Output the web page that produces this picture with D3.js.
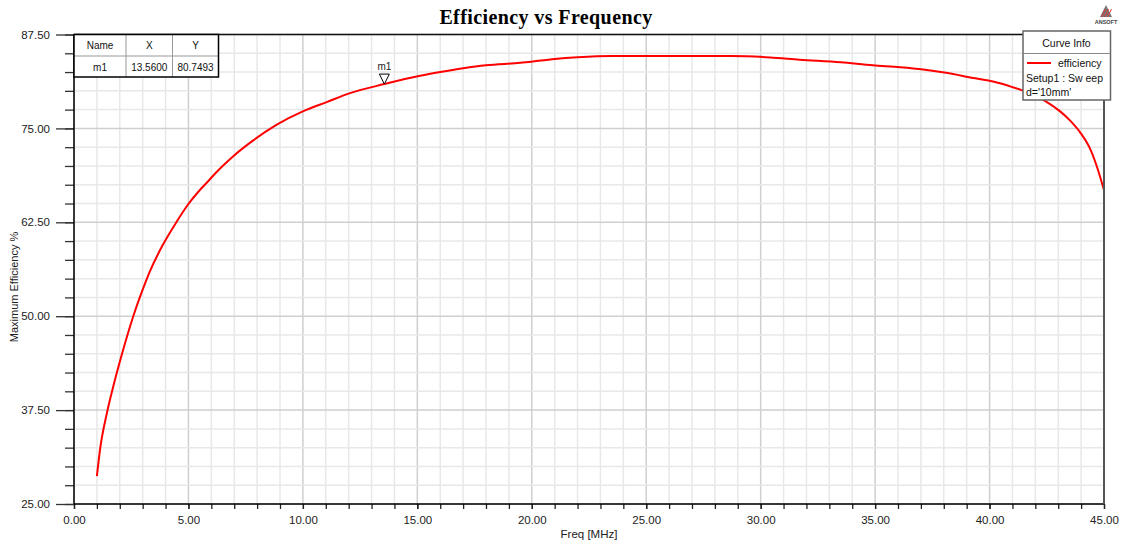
<!DOCTYPE html>
<html>
<head>
<meta charset="utf-8">
<script src="https://cdn.jsdelivr.net/npm/d3@7"></script>
<style>
  body { margin: 0; background: #fff; }
  svg { display: block; font-family: 'Liberation Sans', Arial, sans-serif; }
</style>
</head>
<body>
<svg id="chart" width="1129" height="543"></svg>
<script>
// values
const freq = [1.0, 1.14, 1.43, 1.72, 2.08, 2.59, 2.96, 3.32, 3.83, 4.49, 4.99, 5.5, 5.87, 6.23, 6.96, 7.83, 8.86, 10.02, 11.04, 12.06, 13.56, 15.12, 16.0, 17.0, 18.0, 19.5, 20.3, 21.0, 22.0, 23.5, 28.7, 30.4, 31.7, 33.5, 34.9, 36.1, 37.1, 38.1, 39.3, 40.2, 41.0, 41.4, 42.4, 43.07, 43.5, 43.95, 44.39, 44.68, 45.0]
const efficiency = [28.7, 32.3, 37.0, 40.7, 44.8, 50.0, 53.2, 56.0, 59.2, 62.6, 64.9, 66.8, 68.0, 69.2, 71.3, 73.4, 75.5, 77.3, 78.5, 79.7, 80.9, 82.0, 82.5, 83.0, 83.4, 83.74, 84.0, 84.23, 84.46, 84.63, 84.63, 84.45, 84.15, 83.8, 83.4, 83.15, 82.85, 82.4, 81.7, 81.2, 80.5, 80.1, 78.7, 77.3, 76.1, 74.5, 72.3, 70.0, 66.8]
const xTicks = [0, 5, 10, 15, 20, 25, 30, 35, 40, 45]
const yTicks = [25, 37.5, 50, 62.5, 75, 87.5]
const markerRow = ['m1', '13.5600', '80.7493']
const markerHeader = ['Name', 'X', 'Y']
const legendLines = ['efficiency', 'Setup1 : Sw eep', "d='10mm'"]

const margin = { left: 74, right: 25, top: 34.5, bottom: 39 }
const width = 1129
const height = 543

const svg = d3.select('#chart')

const x = d3.scaleLinear().domain([0, 45]).range([margin.left, width - margin.right])
const y = d3.scaleLinear().domain([25, 87.5]).range([height - margin.bottom, margin.top])

const xMinor = d3.range(0, 45.01, 1)
const yMinor = d3.range(25, 87.51, 2.5)

function buildGrid() {
  const grid = svg.append('g')
  grid.selectAll('.vminor').data(xMinor).enter().append('line')
    .attr('x1', (d) => x(d)).attr('x2', (d) => x(d))
    .attr('y1', y(25)).attr('y2', y(87.5))
    .attr('stroke', (d) => (d % 5 === 0 ? '#cfcfcf' : '#e8e8e8'))
    .attr('stroke-width', 1.5)
  grid.selectAll('.hminor').data(yMinor).enter().append('line')
    .attr('x1', x(0)).attr('x2', x(45))
    .attr('y1', (d) => y(d)).attr('y2', (d) => y(d))
    .attr('stroke', (d) => (d % 12.5 === 0 ? '#cfcfcf' : '#e8e8e8'))
    .attr('stroke-width', 1.5)
}

function buildAxes() {
  // minor ticks
  svg.append('g')
    .attr('transform', 'translate(' + x(0) + ',0)')
    .call(d3.axisLeft(y).tickValues(yMinor).tickSize(9).tickFormat(''))
    .call((g) => g.select('.domain').remove())
    .selectAll('line').attr('stroke', '#333').attr('stroke-width', 1.3)

  const yAxis = svg.append('g')
    .attr('transform', 'translate(' + x(0) + ',0)')
    .call(d3.axisLeft(y).tickValues(yTicks).tickSize(18).tickPadding(6).tickFormat(d3.format('.2f')))
  yAxis.select('.domain').remove()
  yAxis.selectAll('line').attr('stroke', '#333').attr('stroke-width', 1.3)
  yAxis.selectAll('text').attr('font-size', 11.5).attr('fill', '#222')
    .attr('font-family', "'Liberation Sans', Arial, sans-serif")

  const xAxis = svg.append('g')
    .attr('transform', 'translate(0,' + y(25) + ')')
    .call(d3.axisBottom(x).tickValues(xMinor).tickSize(5).tickFormat(''))
  xAxis.select('.domain').remove()
  xAxis.selectAll('line').attr('stroke', '#222').attr('stroke-width', 1.3)

  const xLabels = svg.append('g')
    .attr('transform', 'translate(0,' + y(25) + ')')
    .call(d3.axisBottom(x).tickValues(xTicks).tickSize(5).tickPadding(7).tickFormat(d3.format('.2f')))
  xLabels.select('.domain').remove()
  xLabels.selectAll('line').attr('stroke', '#222').attr('stroke-width', 1.3)
  xLabels.selectAll('text').attr('font-size', 11.5).attr('fill', '#222')
    .attr('font-family', "'Liberation Sans', Arial, sans-serif")

  // frame
  svg.append('line').attr('x1', x(0)).attr('x2', x(45)).attr('y1', y(25)).attr('y2', y(25))
    .attr('stroke', '#000').attr('stroke-width', 1.5)
  svg.append('line').attr('x1', x(0)).attr('x2', x(45)).attr('y1', y(87.5)).attr('y2', y(87.5))
    .attr('stroke', '#111').attr('stroke-width', 1.5)
  svg.append('line').attr('x1', x(0)).attr('x2', x(0)).attr('y1', y(87.5)).attr('y2', y(25))
    .attr('stroke', '#000').attr('stroke-width', 1.5)
  svg.append('line').attr('x1', x(45)).attr('x2', x(45)).attr('y1', y(87.5)).attr('y2', y(25))
    .attr('stroke', '#555').attr('stroke-width', 2)

  svg.append('text').attr('x', (x(0) + x(45)) / 2).attr('y', 538)
    .attr('text-anchor', 'middle').attr('font-size', 11.5).attr('fill', '#222')
    .text('Freq [MHz]')
  svg.append('text').attr('transform', 'translate(18,' + 287 + ') rotate(-90)')
    .attr('text-anchor', 'middle').attr('font-size', 11).attr('fill', '#222')
    .text('Maximum Efficiency %')

  svg.append('text').attr('x', 546).attr('y', 24)
    .attr('text-anchor', 'middle').attr('font-size', 20).attr('font-weight', 'bold')
    .attr('letter-spacing', 0.4)
    .attr('font-family', "'Liberation Serif', 'Times New Roman', serif")
    .text('Efficiency vs Frequency')
}

function buildCurve() {
  const pts = freq.map((f, i) => [f, efficiency[i]])
  const line = d3.line().x((d) => x(d[0])).y((d) => y(d[1])).curve(d3.curveMonotoneX)
  svg.append('path').datum(pts)
    .attr('d', line)
    .attr('fill', 'none')
    .attr('stroke', '#ff0000')
    .attr('stroke-width', 2)
}

function buildMarker() {
  const mx = x(13.56)
  const my = y(80.9)
  svg.append('path')
    .attr('d', 'M' + (mx - 5) + ',' + (my - 10) + ' L' + (mx + 5) + ',' + (my - 10) + ' L' + mx + ',' + my + ' Z')
    .attr('fill', '#fff').attr('stroke', '#000').attr('stroke-width', 1)
  svg.append('text').attr('x', mx).attr('y', my - 14)
    .attr('text-anchor', 'middle').attr('font-size', 10).attr('fill', '#222').text('m1')

  // marker table
  const cols = [74, 126, 172.5, 218.5]
  const rows = [34.5, 56, 77]
  const t = svg.append('g')
  t.append('rect').attr('x', cols[0]).attr('y', rows[0]).attr('width', cols[3] - cols[0]).attr('height', rows[2] - rows[0])
    .attr('fill', '#fff').attr('stroke', 'none')
  t.append('line').attr('x1', cols[0]).attr('x2', cols[3]).attr('y1', rows[1]).attr('y2', rows[1]).attr('stroke', '#999')
  ;[cols[1], cols[2]].forEach((c) => {
    t.append('line').attr('x1', c).attr('x2', c).attr('y1', rows[0]).attr('y2', rows[2]).attr('stroke', '#999')
  })
  t.append('rect').attr('x', cols[0]).attr('y', rows[0]).attr('width', cols[3] - cols[0]).attr('height', rows[2] - rows[0])
    .attr('fill', 'none').attr('stroke', '#000').attr('stroke-width', 1.5)
  markerHeader.forEach((h, i) => {
    t.append('text').attr('x', (cols[i] + cols[i + 1]) / 2).attr('y', 49)
      .attr('text-anchor', 'middle').attr('font-size', 10).attr('fill', '#111').text(h)
  })
  markerRow.forEach((h, i) => {
    t.append('text').attr('x', (cols[i] + cols[i + 1]) / 2).attr('y', 70.5)
      .attr('text-anchor', 'middle').attr('font-size', 10).attr('fill', '#111').text(h)
  })
}

function buildLegend() {
  const g = svg.append('g')
  g.append('rect').attr('x', 1023).attr('y', 31).attr('width', 87.5).attr('height', 69)
    .attr('fill', '#fff').attr('stroke', '#666').attr('stroke-width', 1.5)
  g.append('line').attr('x1', 1023).attr('x2', 1110.5).attr('y1', 53.5).attr('y2', 53.5)
    .attr('stroke', '#888').attr('stroke-width', 1)
  g.append('text').attr('x', 1066.5).attr('y', 47).attr('text-anchor', 'middle')
    .attr('font-size', 10.5).attr('fill', '#111').text('Curve Info')
  g.append('line').attr('x1', 1027).attr('x2', 1051).attr('y1', 63).attr('y2', 63)
    .attr('stroke', '#ff0000').attr('stroke-width', 2)
  g.append('text').attr('x', 1058).attr('y', 67).attr('font-size', 10.5).attr('fill', '#111').text(legendLines[0])
  g.append('text').attr('x', 1026).attr('y', 82).attr('font-size', 10.5).attr('fill', '#111').text(legendLines[1])
  g.append('text').attr('x', 1026).attr('y', 96).attr('font-size', 10.5).attr('fill', '#111').text(legendLines[2])

  // small logo
  const lg = svg.append('g').attr('transform', 'translate(1106,5)')
  lg.append('path').attr('d', 'M0,0 L6,12 L-6,12 Z').attr('fill', '#777')
  ;[-2.5, 0.5, 3.5].forEach((o) => {
    lg.append('line').attr('x1', o - 2).attr('y1', 12).attr('x2', o + 2).attr('y2', 4)
      .attr('stroke', '#d33').attr('stroke-width', 1)
  })
  lg.append('text').attr('x', 0).attr('y', 19).attr('text-anchor', 'middle')
    .attr('font-size', 5.5).attr('font-weight', 'bold').attr('fill', '#444').text('ANSOFT')
}

buildGrid()
buildCurve()
buildAxes()
buildMarker()
buildLegend()
</script>
</body>
</html>
